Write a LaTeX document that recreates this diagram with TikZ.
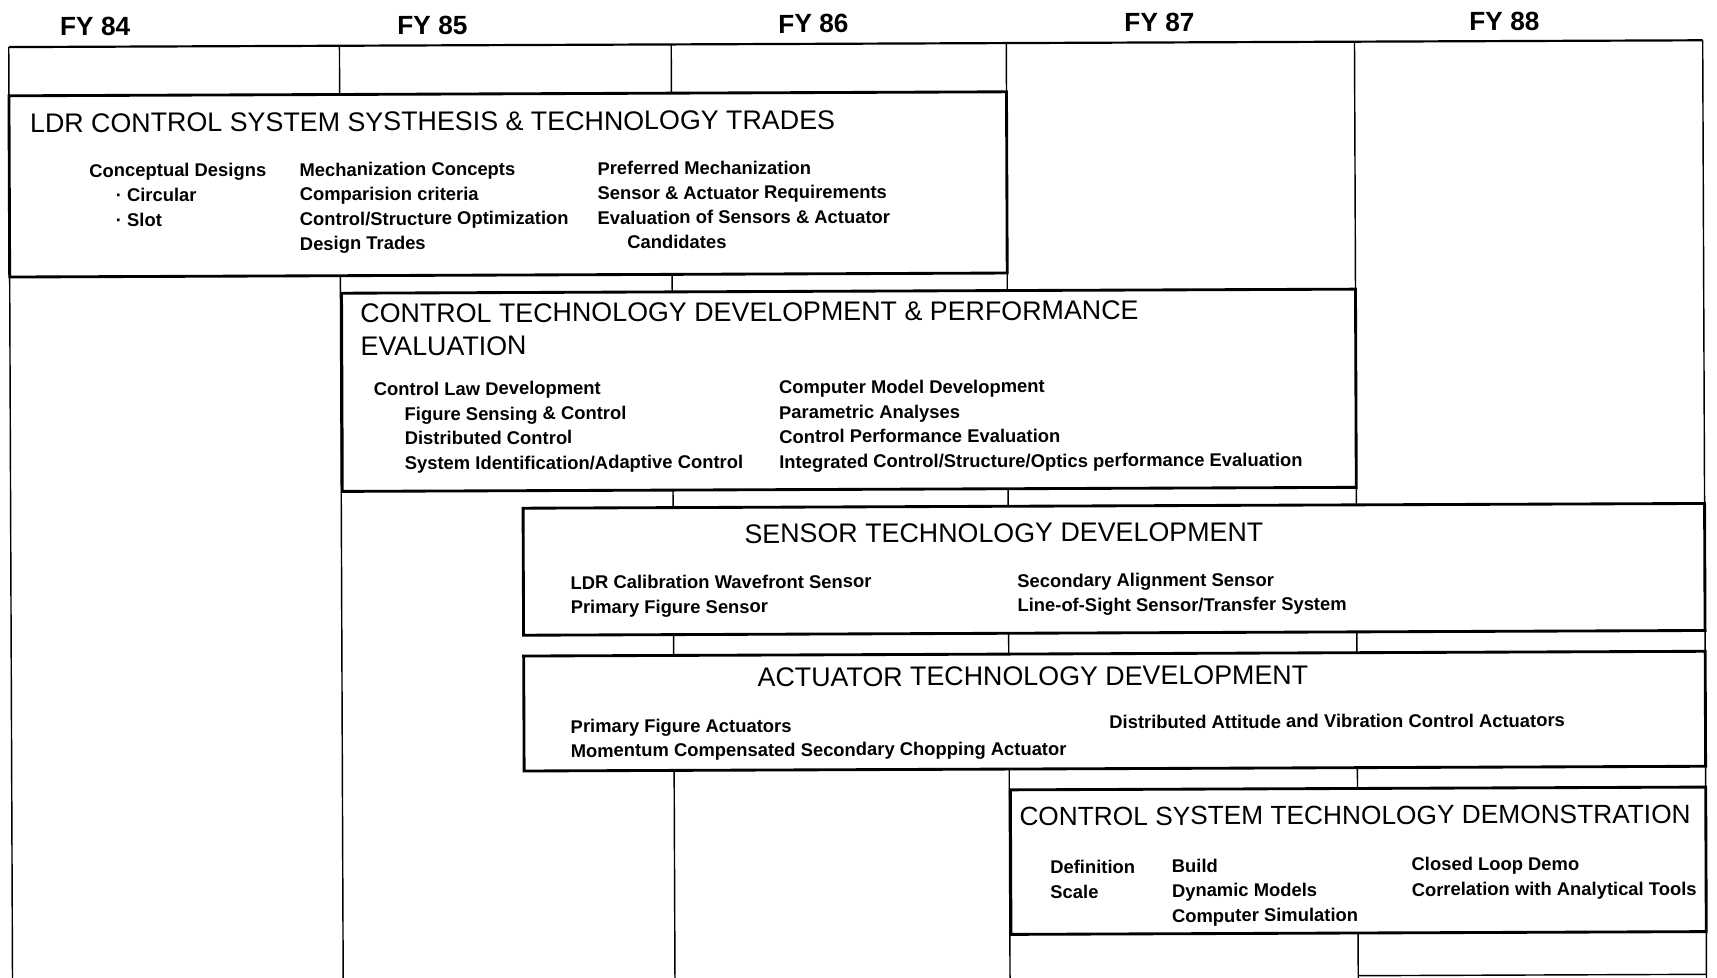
\documentclass[tikz,border=0pt]{standalone}
\usepackage{fontspec}
\setmainfont{Liberation Sans}
\begin{document}
\begin{tikzpicture}[x=1pt,y=-1pt,
  gridline/.style={line width=1.3pt},
  topline/.style={line width=2pt},
  box/.style={draw, line width=2.6pt, fill=white},
  ttl/.style={font=\fontsize{24.5}{28}\selectfont, anchor=base west, inner sep=0pt},
  ttlc/.style={font=\fontsize{24.5}{28}\selectfont, anchor=base, inner sep=0pt},
  hdr/.style={font=\bfseries\fontsize{24}{28}\selectfont, anchor=base, inner sep=0pt},
  itm/.style={font=\bfseries\fontsize{16.8}{19}\selectfont, anchor=base west, inner sep=0pt}]
\useasboundingbox (0,0) rectangle (1568,893);
\clip (0,0) rectangle (1568,893);
\begin{scope}[rotate around={0.23:(8,43)}, transform shape]
% headers
\node[hdr] (fy84) at (87,33) {FY 84};
\node[hdr] (fy85) at (395,33) {FY 85};
\node[hdr] (fy86) at (743,33) {FY 86};
\node[hdr] (fy87) at (1059,33) {FY 87};
\node[hdr] (fy88) at (1374,33) {FY 88};
% grid
\draw[topline] (8,43) -- (1555,43);
\foreach \x in {8,310,613,919,1237,1555} \draw[gridline] (\x,43) -- (\x,905);
\draw[gridline] (1237,896) -- (1555,896);
% boxes
\draw[box] (8,87.5) rectangle (919,253);
\draw[box] (311,269) rectangle (1237,450);
\draw[box] (476,466) rectangle (1555,582);
\draw[box] (476,601) rectangle (1555,706);
\draw[box] (920,725) rectangle (1555,857);
% box 1
\node[ttl] (t1) at (27,121) {LDR CONTROL SYSTEM SYSTHESIS \& TECHNOLOGY TRADES};
\node[itm] (a1) at (81,162) {Conceptual Designs};
\node[itm] (a2) at (105,184.5) {· Circular};
\node[itm] (a3) at (105,207) {· Slot};
\node[itm] (b1) at (273,162) {Mechanization Concepts};
\node[itm] (b2) at (273,184.5) {Comparision criteria};
\node[itm] (b3) at (273,207) {Control/Structure Optimization};
\node[itm] (b4) at (273,229.5) {Design Trades};
\node[itm] (c1) at (545,162) {Preferred Mechanization};
\node[itm] (c2) at (545,184.5) {Sensor \& Actuator Requirements};
\node[itm] (c3) at (545,207) {Evaluation of Sensors \& Actuator};
\node[itm] (c4) at (572,229.5) {Candidates};
% box 2
\node[ttl] (t2a) at (328,296) {CONTROL TECHNOLOGY DEVELOPMENT \& PERFORMANCE};
\node[ttl] (t2b) at (328,326) {EVALUATION};
\node[itm] (d1) at (340,362.5) {Control Law Development};
\node[itm] (d2) at (368,385.5) {Figure Sensing \& Control};
\node[itm] (d3) at (368,407.5) {Distributed Control};
\node[itm] (d4) at (368,430.5) {System Identification/Adaptive Control};
\node[itm] (e1) at (710,362.5) {Computer Model Development};
\node[itm] (e2) at (710,385.5) {Parametric Analyses};
\node[itm] (e3) at (710,407.5) {Control Performance Evaluation};
\node[itm] (e4) at (710,430.5) {Integrated Control/Structure/Optics performance Evaluation};
% box 3
\node[ttlc] (t3) at (915,498.7) {SENSOR TECHNOLOGY DEVELOPMENT};
\node[itm] (f1) at (519,540) {LDR Calibration Wavefront Sensor};
\node[itm] (f2) at (519,562.5) {Primary Figure Sensor};
\node[itm] (g1) at (927,540) {Secondary Alignment Sensor};
\node[itm] (g2) at (927,562.5) {Line-of-Sight Sensor/Transfer System};
% box 4
\node[ttlc] (t4) at (941,629.7) {ACTUATOR TECHNOLOGY DEVELOPMENT};
\node[itm] (h1) at (518.5,671.5) {Primary Figure Actuators};
\node[itm] (h2) at (518.5,693.5) {Momentum Compensated Secondary Chopping Actuator};
\node[itm] (i1) at (1010.5,669.5) {Distributed Attitude and Vibration Control Actuators};
% box 5
\node[ttl, font=\fontsize{24}{28}\selectfont] (t5) at (928,757.7) {CONTROL SYSTEM TECHNOLOGY DEMONSTRATION};
\node[itm] (j1) at (956,801.5) {Definition};
\node[itm] (j2) at (956,824.5) {Scale};
\node[itm] (k1) at (1067,801.5) {Build};
\node[itm] (k2) at (1067,823.5) {Dynamic Models};
\node[itm] (k3) at (1067,846.5) {Computer Simulation};
\node[itm] (l1) at (1286,800.5) {Closed Loop Demo};
\node[itm] (l2) at (1286,823.5) {Correlation with Analytical Tools};
\end{scope}
\end{tikzpicture}
\end{document}
